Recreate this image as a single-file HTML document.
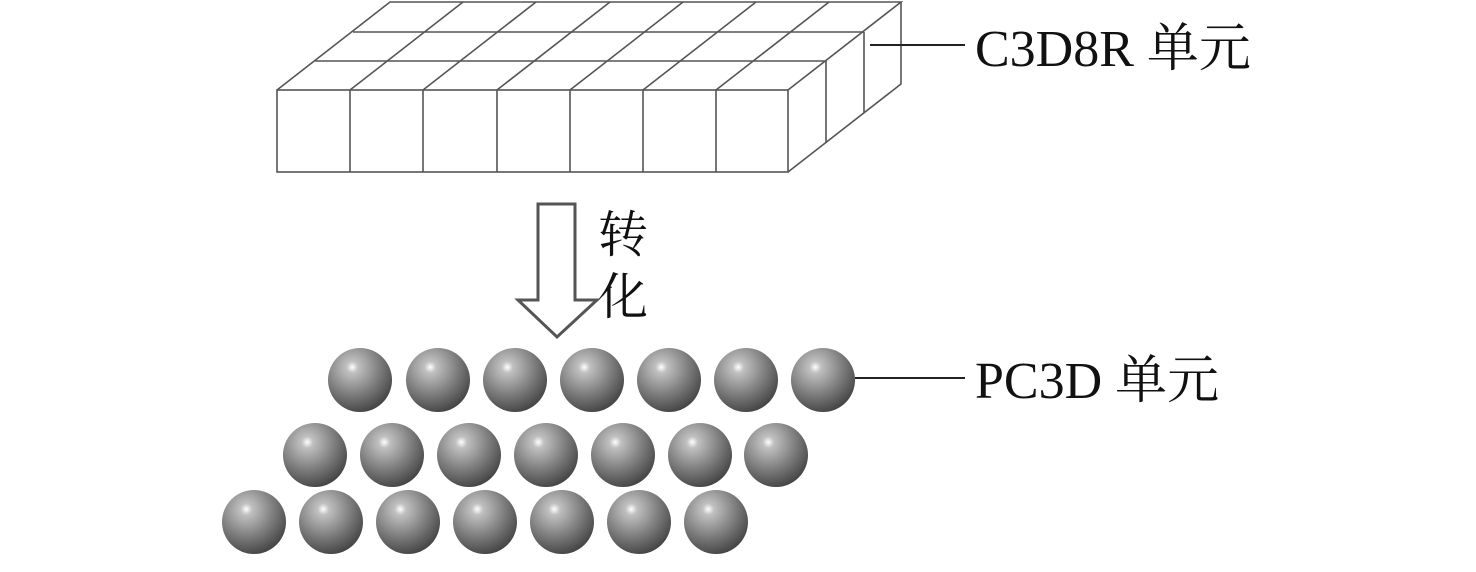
<!DOCTYPE html>
<html><head><meta charset="utf-8"><style>
body{margin:0;background:#fff;width:1476px;height:567px;overflow:hidden}
text{font-family:"Liberation Serif","Noto Serif CJK SC",serif;fill:#111}
</style></head><body>
<svg width="1476" height="567" viewBox="0 0 1476 567">
<defs>
<radialGradient id="g" cx="0.38" cy="0.3" r="0.75">
<stop offset="0" stop-color="#ffffff"/>
<stop offset="0.12" stop-color="#c0c0c0"/>
<stop offset="0.55" stop-color="#808080"/>
<stop offset="1" stop-color="#404040"/>
</radialGradient>
</defs>
<g stroke="#555" stroke-width="1.6" fill="none">
<rect x="277" y="90" width="511" height="82" fill="#fff"/>
<path d="M350 90V172M423 90V172M497 90V172M570 90V172M643 90V172M716 90V172"/>
<path d="M277 90L390 2H901L788 90"/>
<path d="M315 61H826M353 32H864"/>
<path d="M350 90L463 2M423 90L536 2M497 90L610 2M570 90L683 2M643 90L756 2M716 90L829 2"/>
<path d="M788 172L901 84V2"/>
<path d="M826 61V143M864 32V113"/>
</g>
<line x1="870" y1="45" x2="965" y2="45" stroke="#222" stroke-width="2"/>
<text x="975" y="66" font-size="52">C3D8R 单元</text>
<path d="M538 204H575V300H597L557 337L518 300H538Z" fill="#fff" stroke="#555" stroke-width="3"/>
<text x="598" y="252" font-size="50">转</text>
<text x="598" y="314" font-size="50">化</text>
<g fill="url(#g)">
<circle cx="360" cy="380" r="32"/><circle cx="438" cy="380" r="32"/><circle cx="515" cy="380" r="32"/><circle cx="592" cy="380" r="32"/><circle cx="669" cy="380" r="32"/><circle cx="746" cy="380" r="32"/><circle cx="823" cy="380" r="32"/>
<circle cx="315" cy="455" r="32"/><circle cx="392" cy="455" r="32"/><circle cx="469" cy="455" r="32"/><circle cx="546" cy="455" r="32"/><circle cx="623" cy="455" r="32"/><circle cx="700" cy="455" r="32"/><circle cx="776" cy="455" r="32"/>
<circle cx="254" cy="522" r="32"/><circle cx="331" cy="522" r="32"/><circle cx="408" cy="522" r="32"/><circle cx="485" cy="522" r="32"/><circle cx="562" cy="522" r="32"/><circle cx="639" cy="522" r="32"/><circle cx="716" cy="522" r="32"/>
</g>
<line x1="855" y1="378" x2="965" y2="378" stroke="#222" stroke-width="2"/>
<text x="975" y="398" font-size="52">PC3D 单元</text>
</svg>
</body></html>
